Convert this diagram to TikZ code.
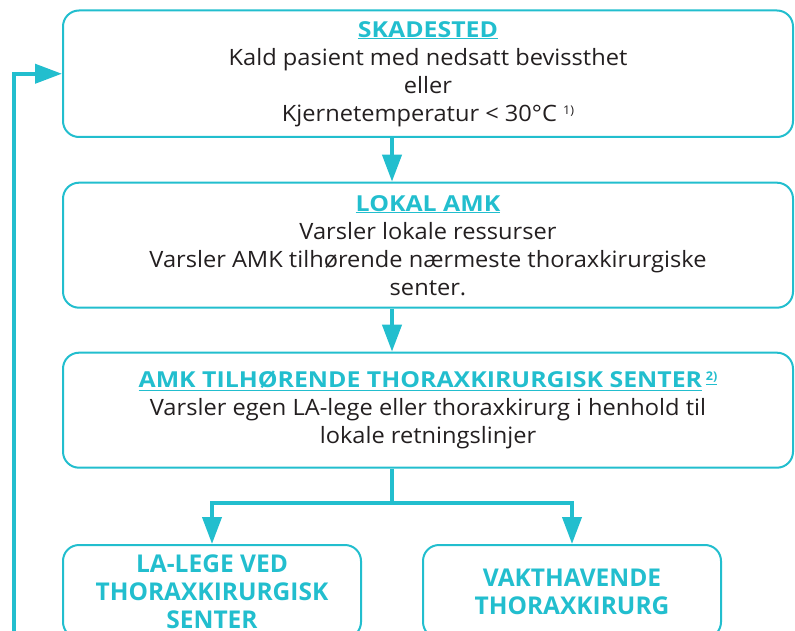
\documentclass[tikz,border=0pt]{standalone}
\usepackage{fontspec}
\setmainfont[FakeStretch=1.05]{Open Sans}
\newfontfamily\titlefont[FakeStretch=1.13]{Open Sans}
\newfontfamily\plainfont{Open Sans}
\usetikzlibrary{arrows.meta}
\definecolor{amkblue}{RGB}{34,190,206}
\definecolor{amktext}{RGB}{35,31,32}
\newcommand{\boxtitle}[1]{{\titlefont\bfseries\fontsize{22}{28}\selectfont\color{amkblue}\underline{#1}}}
\newcommand{\fnote}[1]{\raisebox{7pt}{\fontsize{12}{12}\selectfont #1}}
\begin{document}
\begin{tikzpicture}[x=1pt,y=-1pt,>={Triangle[length=27pt,width=19pt]},
  box/.style={draw=amkblue,line width=2pt,rounded corners=16pt,align=center,
    text=amktext,font=\fontsize{22.5}{28}\selectfont,minimum width=730pt},
  endbox/.style={box,minimum width=298pt,minimum height=93pt,text=amkblue,
    font=\plainfont\bfseries\fontsize{24.5}{28}\selectfont},
  flow/.style={draw=amkblue,line width=4pt,->}]
 \useasboundingbox (0,0) rectangle (795,631);
 \clip (0,0) rectangle (795,631);
 % boxes
 \node[box,minimum height=126.5pt] (skadested) at (428,73.75)
 {\boxtitle{SKADESTED}\\ Kald pasient med nedsatt bevissthet\\ eller\\
  Kjernetemperatur < 30°C \fnote{1)}};
 \node[box,minimum height=125pt] (lokal) at (428,245.2)
 {\boxtitle{LOKAL AMK}\\ Varsler lokale ressurser\\
  Varsler AMK tilhørende nærmeste thoraxkirurgiske\\ senter.};
 \node[box,minimum height=115pt] (amk) at (428,410.2)
 {\boxtitle{AMK TILHØRENDE THORAXKIRURGISK SENTER}\,{\color{amkblue}\bfseries\fnote{\underline{2)}}}\\
  Varsler egen LA-lege eller thoraxkirurg i henhold til\\ lokale retningslinjer};
 \node[endbox] (lalege) at (212,591.5) {LA-LEGE VED\\ THORAXKIRURGISK\\ SENTER};
 \node[endbox] (vakt) at (572,591.5) {VAKTHAVENDE\\ THORAXKIRURG};
 % connectors
 \coordinate (spine) at (392,0);
 \coordinate (fork) at (392,503);
 \coordinate (loop) at (14,650);
 \draw[flow] (skadested.south -| spine) -- (lokal.north -| spine);
 \draw[flow] (lokal.south -| spine) -- (amk.north -| spine);
 \draw[flow,-] (amk.south -| spine) -- (fork);
 \draw[flow] (fork) -| (lalege.north);
 \draw[flow] (fork) -| (vakt.north);
 \draw[flow] (loop) |- (skadested.west);
\end{tikzpicture}
\end{document}
